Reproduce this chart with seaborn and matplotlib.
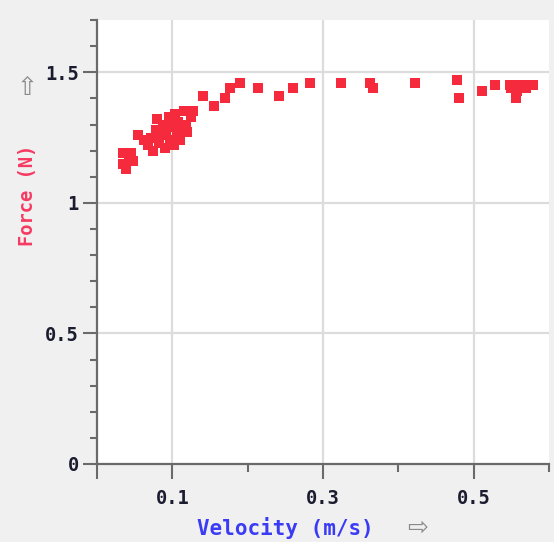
import numpy as np
import pandas as pd
import matplotlib
matplotlib.use("Agg")
import matplotlib.pyplot as plt
import seaborn as sns

# values
velocity = [0.035, 0.035, 0.038, 0.042, 0.045, 0.048,
            0.055, 0.062, 0.068, 0.072, 0.075, 0.078, 0.080, 0.082, 0.085,
            0.088, 0.090, 0.092, 0.095, 0.097, 0.100, 0.102, 0.104, 0.106,
            0.108, 0.110, 0.112, 0.115, 0.118, 0.120, 0.125, 0.128,
            0.141, 0.155, 0.170, 0.177, 0.190, 0.214, 0.242, 0.260, 0.283,
            0.324, 0.362, 0.366, 0.422, 0.478, 0.480, 0.511, 0.528,
            0.548, 0.550, 0.555, 0.556, 0.558, 0.564, 0.569, 0.573, 0.579]
force = [1.19, 1.15, 1.13, 1.17, 1.19, 1.16,
         1.26, 1.24, 1.22, 1.25, 1.20, 1.28, 1.32, 1.23, 1.26,
         1.30, 1.21, 1.27, 1.33, 1.24, 1.29, 1.22, 1.34, 1.26,
         1.31, 1.24, 1.28, 1.35, 1.30, 1.27, 1.33, 1.35,
         1.41, 1.37, 1.40, 1.44, 1.46, 1.44, 1.41, 1.44, 1.46,
         1.46, 1.46, 1.44, 1.46, 1.47, 1.40, 1.43, 1.45,
         1.45, 1.44, 1.45, 1.40, 1.43, 1.45, 1.44, 1.45, 1.45]
x_major = [0.0, 0.1, 0.3, 0.5]
x_labels = ["", "0.1", "0.3", "0.5"]
x_minor = [0.2, 0.4, 0.6]
y_major = [0, 0.5, 1.0, 1.5]
y_labels = ["0", "0.5", "1", "1.5"]

df = pd.DataFrame({"Velocity": velocity, "Force": force})

sns.set_style("white")
plt.rcParams['font.family'] = ['DejaVu Sans Mono', 'DejaVu Sans']

fig = plt.figure(figsize=(5.54, 5.42), dpi=100, facecolor="#f0f0f0")
ax = fig.add_axes([0.175, 0.144, 0.816, 0.819])
ax.set_facecolor("white")

sns.scatterplot(data=df, x="Velocity", y="Force", marker="s", s=55,
                color="#f52a3d", linewidth=0, ax=ax, zorder=3)

ax.set_xlim(0, 0.6)
ax.set_ylim(0, 1.7)
ax.set_xticks(x_major)
ax.set_xticklabels(x_labels)
ax.set_xticks(x_minor, minor=True)
ax.set_yticks(y_major)
ax.set_yticklabels(y_labels)
ax.set_yticks(np.round(np.arange(0, 1.71, 0.1), 2), minor=True)

for g in [0.1, 0.3, 0.5]:
    ax.axvline(g, color="#dcdcdc", lw=1.6, zorder=1)
for g in [0.5, 1.0, 1.5]:
    ax.axhline(g, color="#dcdcdc", lw=1.6, zorder=1)

for s in ["top", "right"]:
    ax.spines[s].set_visible(False)
for s in ["left", "bottom"]:
    ax.spines[s].set_color("#6a6a6a")
    ax.spines[s].set_linewidth(1.6)

ax.tick_params(axis="both", which="both", direction="out", color="#6a6a6a",
               width=1.5, labelcolor="#1c1c30", labelsize=13.5,
               bottom=True, left=True, top=False, right=False)
ax.tick_params(axis="x", which="major", length=11, pad=7)
ax.tick_params(axis="x", which="minor", length=5.5)
ax.tick_params(axis="y", which="major", length=10, pad=3)
ax.tick_params(axis="y", which="minor", length=5)
for lab in ax.get_xticklabels() + ax.get_yticklabels():
    lab.set_fontweight("bold")

ax.set_xlabel("")
ax.set_ylabel("")
fig.text(285 / 554, 1 - 528 / 542, "Velocity (m/s)", color="#3b3bf5",
         fontsize=15, fontweight="bold", ha="center", va="center")
fig.text(418 / 554, 1 - 528 / 542, "\u21e8", color="#8a8a8a",
         fontsize=18, ha="center", va="center", family="DejaVu Sans")
fig.text(27 / 554, 1 - 195 / 542, "Force (N)", color="#f73a62",
         fontsize=13.5, fontweight="bold", rotation=90, ha="center", va="center")
fig.text(27 / 554, 1 - 88 / 542, "\u21e7", color="#8a8a8a",
         fontsize=18, ha="center", va="center", family="DejaVu Sans")

fig.savefig("out.png", dpi=100, facecolor=fig.get_facecolor())
